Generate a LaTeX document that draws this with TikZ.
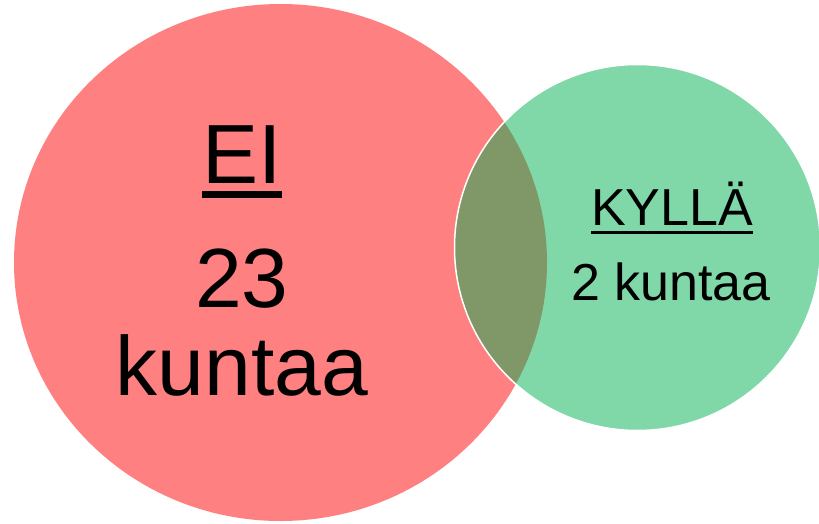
\documentclass[tikz,border=0pt]{standalone}
\usepackage{fontspec}
\setmainfont{Liberation Sans}
\definecolor{eired}{RGB}{255,128,128}
\definecolor{kyllagreen}{RGB}{128,216,168}
\definecolor{overlapolive}{RGB}{128,151,104}
\newcommand\ulword[3]{\leavevmode\vtop{\hbox{#3}\kern#1\hrule height#2}}
\tikzset{
  bigtext/.style={font=\fontsize{84}{88}\selectfont, anchor=base, inner sep=0pt},
  smalltext/.style={font=\fontsize{52}{60}\selectfont, anchor=base, inner sep=0pt}
}
\begin{document}
\begin{tikzpicture}[x=1pt, y=-1pt]
		\useasboundingbox (0,0) rectangle (819,524);

		% Ellipses
		\fill[eired] (280.5,262.5) ellipse (266.5 and 258.5);
		\fill[kyllagreen] (637.5,247.5) circle (183);
		\begin{scope}
				\clip (280.5,262.5) ellipse (266.5 and 258.5);
				\fill[overlapolive] (637.5,247.5) circle (183);
		\end{scope}
		\draw[white, line width=1.5pt] (637.5,247.5) circle (183);

		% Textes
		\node[bigtext] at (242,183) (ei) {\ulword{8pt}{6.5pt}{EI}};
		\node[bigtext, align=center] at (242,395) (eicount) {23\\kuntaa};
		\node[smalltext] at (672,225) (kylla) {\ulword{5.5pt}{3.5pt}{KYLLÄ}};
		\node[smalltext] at (671,300) (kyllacount) {2 kuntaa};
\end{tikzpicture}
\end{document}
